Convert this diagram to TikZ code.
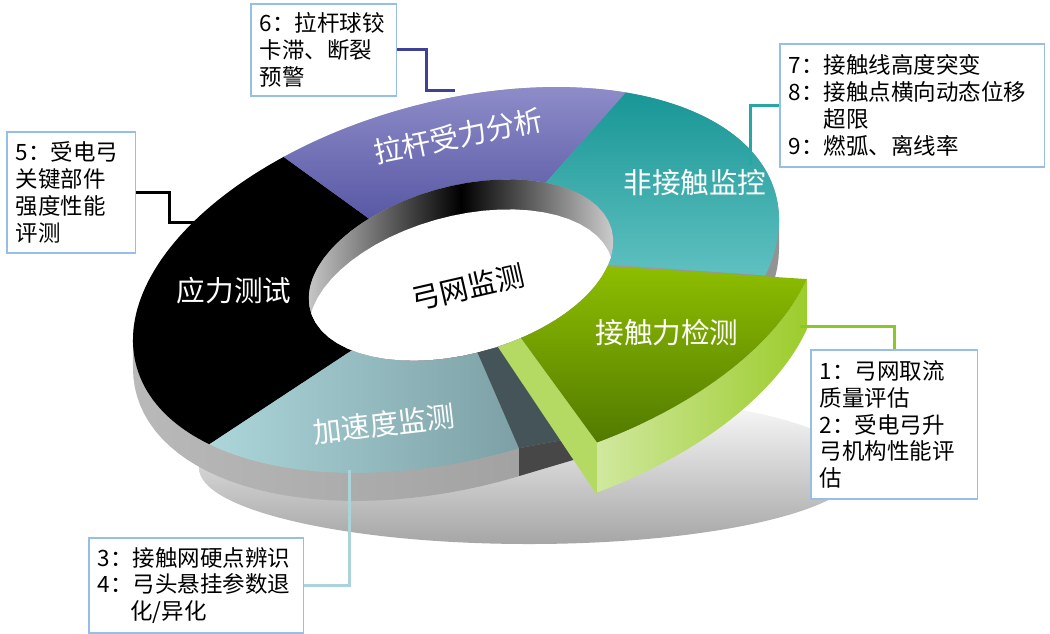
\documentclass[tikz,border=0pt]{standalone}
\usepackage{fontspec}
\setmainfont{Noto Sans CJK SC}
\usetikzlibrary{positioning}
\definecolor{ringpurpleA}{RGB}{142,140,200}
\definecolor{ringpurpleB}{RGB}{88,88,165}
\definecolor{ringtealA}{RGB}{24,150,150}
\definecolor{ringtealB}{RGB}{96,192,192}
\definecolor{ringgreenA}{RGB}{142,190,0}
\definecolor{ringgreenB}{RGB}{82,122,0}
\definecolor{ringlimeA}{RGB}{208,232,158}
\definecolor{ringlimeB}{RGB}{156,204,44}
\definecolor{ringlime}{RGB}{180,218,100}
\definecolor{ringblueA}{RGB}{172,214,218}
\definecolor{ringblueB}{RGB}{124,160,165}
\definecolor{ringslate}{RGB}{69,84,88}
\definecolor{boxline}{RGB}{150,190,230}
\definecolor{linepurple}{RGB}{64,64,150}
\definecolor{lineteal}{RGB}{40,165,165}
\definecolor{linegreen}{RGB}{140,198,40}
\definecolor{lineblue}{RGB}{170,212,218}

\begin{document}
\begin{tikzpicture}[x=0.02cm, y=-0.02cm, samples=60,
  declare function={
    ox(\t)=456+331*cos(\t)*0.9659+179*sin(\t)*0.2588;
    oy(\t)=280-331*cos(\t)*0.2588+179*sin(\t)*0.9659;
    ix(\t)=461+156*cos(\t)*0.9659+84*sin(\t)*0.2588;
    iy(\t)=270-156*cos(\t)*0.2588+84*sin(\t)*0.9659;},
  note/.style={draw=boxline, line width=1.1pt, fill=white, anchor=north west, align=left, inner xsep=5pt, font=\fontsize{12.8}{15.3}\selectfont},
  seglabel/.style={text=white, font=\fontsize{16.3}{18}\selectfont},
  link/.style={line width=1.7pt}]
\useasboundingbox (0,0) rectangle (1050,633);
% shadow and side wall
\shade[top color=white, bottom color=gray!70] (529,468) ellipse [x radius=330, y radius=76];
\shade[left color=gray!55, right color=gray!85] plot[domain=8.24:188.24] ({ox(\x)},{oy(\x)+28}) -- plot[domain=188.24:368.24] ({ox(\x)},{oy(\x)}) -- cycle;
% top faces
\fill[black] plot[domain=148:246] ({ox(\x)},{oy(\x)}) -- plot[domain=241:144] ({ix(\x)},{iy(\x)}) -- cycle;
\shade[top color=ringpurpleA, bottom color=ringpurpleB] plot[domain=-114:-50] ({ox(\x)},{oy(\x)}) -- plot[domain=-48:-119] ({ix(\x)},{iy(\x)}) -- cycle;
\shade[top color=ringtealA, bottom color=ringtealB] plot[domain=-50:25] ({ox(\x)},{oy(\x)}) -- plot[domain=23:-48] ({ix(\x)},{iy(\x)}) -- cycle;
\shade[left color=ringblueA, right color=ringblueB] plot[domain=87:148] ({ox(\x)},{oy(\x)}) -- plot[domain=144:92] ({ix(\x)},{iy(\x)}) -- cycle;
% hole
\shade[left color=gray!45, right color=gray!40, middle color=black] plot[domain=0:360] ({ix(\x)},{iy(\x)}) -- cycle;
\begin{scope}
\clip plot[domain=0:360] ({ix(\x)},{iy(\x)}) -- cycle;
\fill[white] plot[domain=0:360] ({ix(\x)},{iy(\x)+30}) -- cycle;
\end{scope}
% gap left by the pulled-out piece
\coordinate (gapin) at ({ix(92)},{iy(92)});
\coordinate (gapout) at ({ox(87)},{oy(87)});
\fill[ringslate] (gapin) -- (498,347) -- (563,440) -- (gapout) -- cycle;
\fill[black!72] (gapout) -- (563,440) -- (580,458) -- (519,476) -- cycle;
% pulled-out piece
\coordinate (greenin) at ({ix(75)},{iy(75)});
\coordinate (greenout) at ({ox(80)+40},{oy(80)+7});
\fill[ringlime] (498,347) -- (greenin) -- (greenout) -- (597,495) -- cycle;
\shade[left color=ringlimeA, right color=ringlimeB] plot[domain=80:24] ({ox(\x)+40},{oy(\x)+7}) -- plot[domain=24:80] ({ox(\x)+40},{oy(\x)+57}) -- cycle;
\shade[top color=ringgreenA, bottom color=ringgreenB] plot[domain=24:75] ({ix(\x)},{iy(\x)}) -- plot[domain=80:24] ({ox(\x)+40},{oy(\x)+7}) -- cycle;
% labels
\node[seglabel, rotate=11.6] (pullLbl) at (458,136) {拉杆受力分析};
\node[seglabel] (noncLbl) at (695,183) {非接触监控};
\node[seglabel] (forceLbl) at (667,333) {接触力检测};
\node[seglabel] (stressLbl) at (234,291) {应力测试};
\node[seglabel, rotate=6.6] (accLbl) at (384,424) {加速度监测};
\node[font=\fontsize{16.3}{18}\selectfont, rotate=13] (hubLbl) at (468,287) {弓网监测};
% notes
\node[note, text width=2.56cm, minimum height=1.84cm] (note6) at (250,3) {6：拉杆球铰\\卡滞、断裂\\预警};
\node[note, text width=2.22cm, minimum height=2.42cm] (note5) at (6,131) {5：受电弓\\关键部件\\强度性能\\评测};
\node[note, text width=4.94cm, minimum height=2.46cm] (note79) at (779,43) {7：接触线高度突变\\8：接触点横向动态位移\\\hspace*{1.55em}超限\\9：燃弧、离线率};
\node[note, text width=2.98cm, minimum height=2.98cm] (note12) at (810,349) {1：弓网取流\\质量评估\\2：受电弓升\\弓机构性能评\\估};
\node[note, text width=3.94cm, minimum height=1.9cm] (note34) at (88,537) {3：接触网硬点辨识\\4：弓头悬挂参数退\\\hspace*{1.45em}化/异化};
% links
\coordinate (end6) at (455,90);
\coordinate (end5) at (200,222);
\coordinate (end79) at (750,165);
\coordinate (end12) at (800,326);
\coordinate (end34) at (349,470);
\draw[link, linepurple] (note6.east) -- ++(29,0) |- (end6);
\draw[link, black] (note5.east) -- ++(33,0) |- (end5);
\draw[link, lineteal] (note79.west) -| (end79);
\draw[link, linegreen] (end12) -| (note12.north);
\draw[link, lineblue] (note34.east) -| (end34);
\end{tikzpicture}
\end{document}
